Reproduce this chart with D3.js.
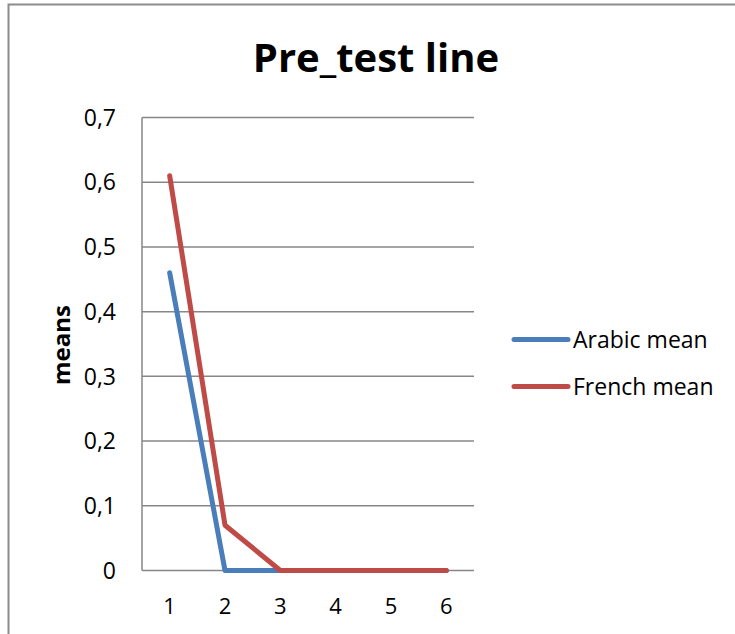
<!DOCTYPE html>
<html>
<head>
<meta charset="utf-8">
<script src="https://cdn.jsdelivr.net/npm/d3@7"></script>
<style>
  body { margin: 0; background: #fff; }
  svg { display: block; font-family: "Open Sans", sans-serif; }
</style>
</head>
<body>
<div id="chart"></div>
<script>
var categories = ["1", "2", "3", "4", "5", "6"];
var arabicMean = [0.46, 0, 0, 0, 0, 0];
var frenchMean = [0.61, 0.07, 0, 0, 0, 0];
var seriesNames = ["Arabic mean", "French mean"];
var yTicks = [0, 0.1, 0.2, 0.3, 0.4, 0.5, 0.6, 0.7];
var yTickLabels = ["0", "0,1", "0,2", "0,3", "0,4", "0,5", "0,6", "0,7"];

var width = 735, height = 634;
var colors = ["#4a7ebb", "#be4b48"];

var svg = d3.select("#chart")
    .append("svg")
    .attr("width", width)
    .attr("height", height);

// chart frame (only top and left edges show)
svg.append("path")
    .attr("d", "M8.5,634 V4.5 H735")
    .attr("fill", "none")
    .attr("stroke", "#8c8c8c")
    .attr("stroke-width", 2);

var x = d3.scalePoint().domain(categories).range([142, 474]).padding(0.5);
var y = d3.scaleLinear().domain([0, 0.7]).range([570.5, 117.5]);

// gridlines
svg.append("g")
    .selectAll("line")
    .data(yTicks)
    .join("line")
    .attr("x1", 142)
    .attr("x2", 474)
    .attr("y1", function(d) { return y(d); })
    .attr("y2", function(d) { return y(d); })
    .attr("stroke", "#878787")
    .attr("stroke-width", 1.5);

// y axis line
svg.append("line")
    .attr("x1", 142).attr("x2", 142)
    .attr("y1", y(0.7)).attr("y2", y(0))
    .attr("stroke", "#878787")
    .attr("stroke-width", 1.5);

// y tick labels
svg.append("g")
    .selectAll("text")
    .data(yTicks)
    .join("text")
    .attr("x", 116)
    .attr("y", function(d) { return y(d); })
    .attr("dy", "0.36em")
    .attr("text-anchor", "end")
    .attr("font-size", "23px")
    .attr("fill", "#000")
    .text(function(d, i) { return yTickLabels[i]; });

// x tick labels
svg.append("g")
    .selectAll("text")
    .data(categories)
    .join("text")
    .attr("x", function(d) { return x(d); })
    .attr("y", 614)
    .attr("text-anchor", "middle")
    .attr("font-size", "22px")
    .attr("fill", "#000")
    .text(function(d) { return d; });

// axis title
svg.append("text")
    .attr("transform", "translate(70,345) rotate(-90)")
    .attr("text-anchor", "middle")
    .attr("font-size", "24px")
    .attr("font-weight", "bold")
    .text("means");

// title
svg.append("text")
    .attr("x", 376)
    .attr("y", 72)
    .attr("text-anchor", "middle")
    .attr("font-size", "40px")
    .attr("font-weight", "bold")
    .text("Pre_test line");

var series = [arabicMean, frenchMean];

var line = d3.line()
    .x(function(d, i) { return x(categories[i]); })
    .y(function(d) { return y(d); });

svg.append("g")
    .selectAll("path")
    .data(series)
    .join("path")
    .attr("d", line)
    .attr("fill", "none")
    .attr("stroke", function(d, i) { return colors[i]; })
    .attr("stroke-width", 5)
    .attr("stroke-linejoin", "round")
    .attr("stroke-linecap", "round");

// legend
var legend = svg.append("g")
    .selectAll("g")
    .data(seriesNames)
    .join("g")
    .attr("transform", function(d, i) { return "translate(514," + (339.5 + i * 47) + ")"; });

legend.append("line")
    .attr("x1", 0).attr("x2", 54)
    .attr("stroke", function(d, i) { return colors[i]; })
    .attr("stroke-width", 5)
    .attr("stroke-linecap", "round");

legend.append("text")
    .attr("x", 59)
    .attr("dy", "0.36em")
    .attr("font-size", "23px")
    .attr("fill", "#000")
    .text(function(d) { return d; });
</script>
</body>
</html>
